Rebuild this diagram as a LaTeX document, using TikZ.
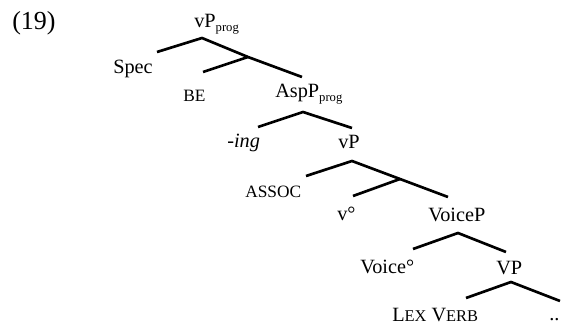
\documentclass[tikz,border=0pt]{standalone}
\usepackage{fontspec}
\setmainfont{Liberation Serif}
\newcommand{\mysub}[1]{\raisebox{-0.35ex}{\fontsize{9.5}{9.5}\selectfont #1}}
\newcommand{\mysc}[1]{{\fontsize{12.3}{12.3}\selectfont #1}}
\begin{document}
\begin{tikzpicture}[x=0.75pt,y=-0.75pt,
  lab/.style={anchor=base west,inner sep=0pt,font=\fontsize{15.2}{17}\selectfont},
  small/.style={anchor=base west,inner sep=0pt,font=\fontsize{13}{14}\selectfont},
  branch/.style={line width=2pt,line join=miter}]
\useasboundingbox (0,0) rectangle (564,324);
% labels
\node[anchor=base west,inner sep=0pt,font=\fontsize{19.5}{21}\selectfont] (ex) at (12,30) {(19)};
\node[lab] (vpprog) at (194,28) {vP\mysub{prog}};
\node[lab] (spec) at (113,74) {Spec};
\node[small] (be) at (183,102) {BE};
\node[lab] (asp) at (275,98) {AspP\mysub{prog}};
\node[lab] (ing) at (227,148) {\itshape -ing};
\node[lab] (vp) at (338,149) {vP};
\node[small] (assoc) at (245,198) {ASSOC};
\node[lab] (vdeg) at (337,220) {v°};
\node[lab] (voicep) at (428,222) {VoiceP};
\node[lab] (voicedeg) at (360,273) {Voice°};
\node[lab] (VP) at (496,274) {VP};
\node[lab] (lex) at (392,321) {L\mysc{EX} V\mysc{ERB}};
\node[lab] (dots) at (549,320) {..};
% branch points
\coordinate (a1) at (202,38);
\coordinate (l1) at (157,52);
\coordinate (m1) at (248,57);
\coordinate (r1) at (302,77);
\coordinate (b1) at (203,72);
\coordinate (a2) at (303,112);
\coordinate (l2) at (258,127);
\coordinate (r2) at (352,128);
\coordinate (a3) at (352,161);
\coordinate (l3) at (306,176);
\coordinate (m3) at (400,179);
\coordinate (r3) at (448,197);
\coordinate (b3) at (353,196);
\coordinate (a4) at (458,233);
\coordinate (l4) at (413,249);
\coordinate (r4) at (506,252);
\coordinate (a5) at (511,282);
\coordinate (l5) at (466,298);
\coordinate (r5) at (560,301);
% branches
\draw[branch] (l1) -- (a1) -- (m1) -- (r1);
\draw[branch] (m1) -- (b1);
\draw[branch] (l2) -- (a2) -- (r2);
\draw[branch] (l3) -- (a3) -- (m3) -- (r3);
\draw[branch] (m3) -- (b3);
\draw[branch] (l4) -- (a4) -- (r4);
\draw[branch] (l5) -- (a5) -- (r5);
\end{tikzpicture}
\end{document}
